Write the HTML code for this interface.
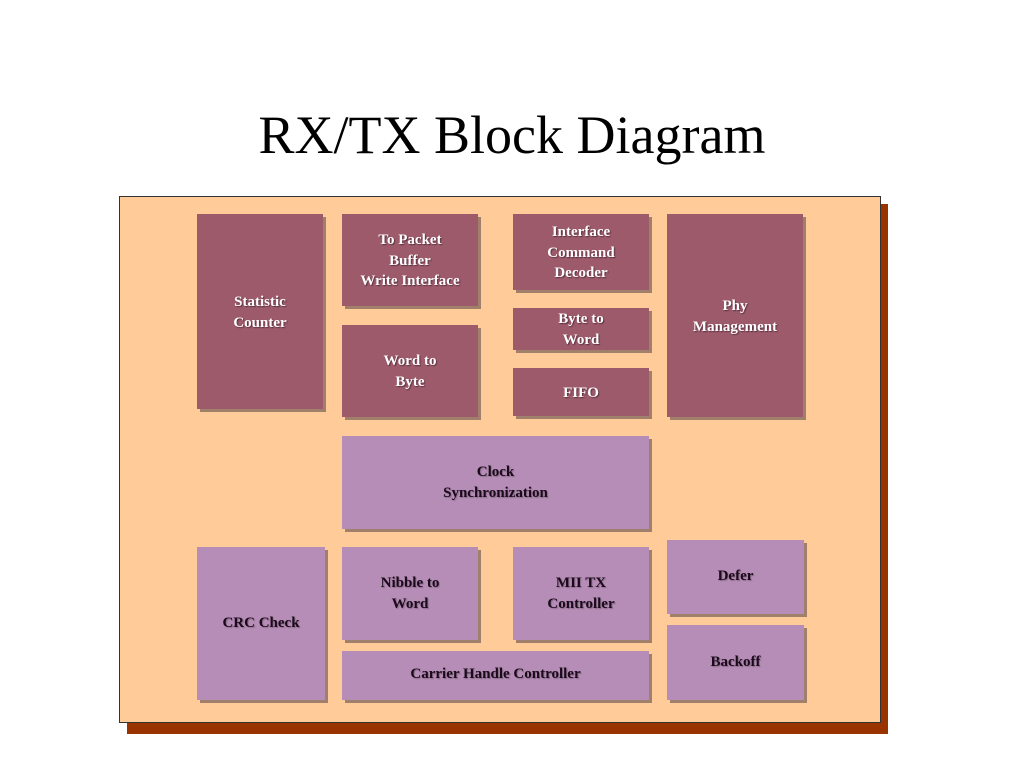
<!DOCTYPE html>
<html><head><meta charset="utf-8"><style>
body{margin:0;width:1024px;height:768px;background:#fff;position:relative;overflow:hidden;font-family:"Liberation Serif",serif}
.t{position:absolute;left:0;width:1024px;top:100px;text-align:center;font-size:54px;line-height:70px;color:#000}
.sh{position:absolute;background:#993300}
.p{position:absolute;left:119px;top:196px;width:760px;height:525px;background:#ffcc99;border:1px solid #333}
.b{position:absolute;box-shadow:3px 3px 0 #a0806a}
.m{background:#9c5a6a;color:#fff}
.u{background:#b68db6;color:#1a0a1a}
.l{position:absolute;left:0;right:0;text-align:center;font-weight:bold;font-size:15px;line-height:20.5px}
.m .l{text-shadow:1px 1px 1px #5a3040}
.u .l{text-shadow:1px 1px 1px #8a6a8a}
</style></head><body>
<div class="t">RX/TX Block Diagram</div>
<div class="sh" style="left:127px;top:204px;width:761px;height:530px"></div>
<div class="p"></div>

<div class="b m" style="left:197px;top:214px;width:126px;height:195px"><div class="l" style="top:78px">Statistic<br>Counter</div></div>
<div class="b m" style="left:342px;top:214px;width:136px;height:92px"><div class="l" style="top:16px">To Packet<br>Buffer<br>Write Interface</div></div>
<div class="b m" style="left:342px;top:325px;width:136px;height:92px"><div class="l" style="top:26px">Word to<br>Byte</div></div>
<div class="b m" style="left:513px;top:214px;width:136px;height:76px"><div class="l" style="top:8px">Interface<br>Command<br>Decoder</div></div>
<div class="b m" style="left:513px;top:308px;width:136px;height:42px"><div class="l" style="top:1px">Byte to<br>Word</div></div>
<div class="b m" style="left:513px;top:368px;width:136px;height:48px"><div class="l" style="top:15px">FIFO</div></div>
<div class="b m" style="left:667px;top:214px;width:136px;height:203px"><div class="l" style="top:82px">Phy<br>Management</div></div>

<div class="b u" style="left:342px;top:436px;width:307px;height:93px"><div class="l" style="top:26px">Clock<br>Synchronization</div></div>
<div class="b u" style="left:197px;top:547px;width:128px;height:153px"><div class="l" style="top:66px">CRC Check</div></div>
<div class="b u" style="left:342px;top:547px;width:136px;height:93px"><div class="l" style="top:26px">Nibble to<br>Word</div></div>
<div class="b u" style="left:513px;top:547px;width:136px;height:93px"><div class="l" style="top:26px">MII TX<br>Controller</div></div>
<div class="b u" style="left:342px;top:651px;width:307px;height:49px"><div class="l" style="top:13px">Carrier Handle Controller</div></div>
<div class="b u" style="left:667px;top:540px;width:137px;height:74px"><div class="l" style="top:26px">Defer</div></div>
<div class="b u" style="left:667px;top:625px;width:137px;height:75px"><div class="l" style="top:27px">Backoff</div></div>
</body></html>
